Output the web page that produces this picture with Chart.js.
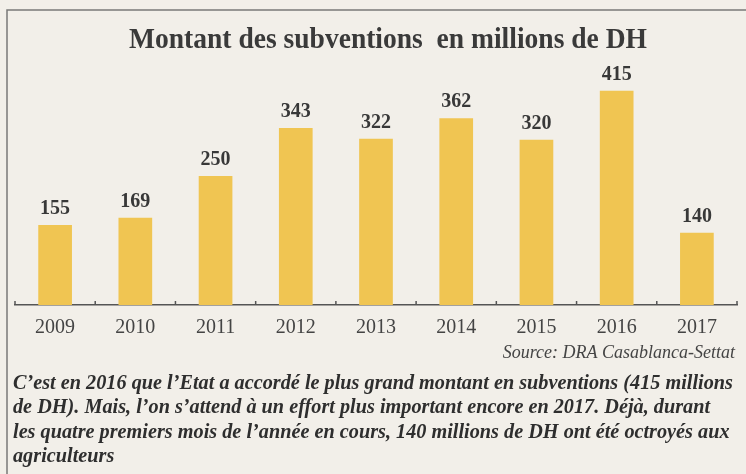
<!DOCTYPE html>
<html>
<head>
<meta charset="utf-8">
<script src="https://cdn.jsdelivr.net/npm/chart.js@4"></script>
<style>
  html, body { margin: 0; padding: 0; background: #f2efe9; }
  #wrap { width: 746px; height: 474px; }
</style>
</head>
<body>
<div id="wrap"><canvas id="subv" width="746" height="474"></canvas></div>
<script>
const annees = ['2009', '2010', '2011', '2012', '2013', '2014', '2015', '2016', '2017']
const montants = [155, 169, 250, 343, 322, 362, 320, 415, 140]
const titre = 'Montant des subventions  en millions de DH'
const source = 'Source: DRA Casablanca-Settat'
const commentaire = [
  'C\u2019est en 2016 que l\u2019Etat a accordé le plus grand montant en subventions (415 millions',
  'de DH). Mais, l\u2019on s\u2019attend à un effort plus important encore en 2017. Déjà, durant',
  'les quatre premiers mois de l\u2019année en cours, 140 millions de DH ont été octroyés aux',
  'agriculteurs'
]

const serif = '"Liberation Serif", "DejaVu Serif", serif'

// texte condensé : on compresse horizontalement pour coller a la largeur voulue
function texteSerre(ctx, txt, x, y, font, largeur, align) {
  ctx.save()
  ctx.font = font
  const w = ctx.measureText(txt).width
  const k = largeur ? Math.min(1, largeur / w) : 1
  ctx.translate(x, y)
  ctx.scale(k, 1)
  ctx.textAlign = align || 'left'
  ctx.fillText(txt, 0, 0)
  ctx.restore()
  return k
}

const habillage = {
  id: 'habillage',
  beforeDraw(chart) {
    const ctx = chart.ctx
    ctx.save()
    ctx.fillStyle = '#f2efe9'
    ctx.fillRect(0, 0, chart.width, chart.height)
    ctx.strokeStyle = '#7a7a78'
    ctx.lineWidth = 1.5
    ctx.beginPath()
    ctx.moveTo(7, 474)
    ctx.lineTo(7, 10)
    ctx.lineTo(746, 10)
    ctx.stroke()
    ctx.restore()
  },
  afterDraw(chart) {
    const ctx = chart.ctx
    const x = chart.scales.x
    const meta = chart.getDatasetMeta(0)
    ctx.save()
    ctx.fillStyle = '#3a3a3a'
    // titre
    texteSerre(ctx, titre, 388, 48, 'bold 29px ' + serif, 518, 'center')
    // valeurs au-dessus des barres
    ctx.fillStyle = '#383838'
    meta.data.forEach((bar, i) => {
      texteSerre(ctx, String(montants[i]), bar.x, bar.y - 11, 'bold 20px ' + serif, 0, 'center')
    })
    // petits traits de graduation vers le haut
    ctx.strokeStyle = '#555'
    ctx.lineWidth = 1.5
    const pas = (x.right - x.left) / annees.length
    for (let i = 0; i <= annees.length; i++) {
      const px = x.left + i * pas
      ctx.beginPath()
      ctx.moveTo(px, x.top)
      ctx.lineTo(px, x.top - 4)
      ctx.stroke()
    }
    // source
    ctx.fillStyle = '#444'
    texteSerre(ctx, source, 735, 358, 'italic 18px ' + serif, 0, 'right')
    // commentaire
    ctx.fillStyle = '#2e2e2e'
    const f = 'bold italic 21px ' + serif
    ctx.font = f
    const k = 720 / ctx.measureText(commentaire[0]).width
    commentaire.forEach((ligne, i) => {
      ctx.save()
      ctx.translate(13, 389 + i * 24.4)
      ctx.scale(k, 1)
      ctx.font = f
      ctx.fillText(ligne, 0, 0)
      ctx.restore()
    })
    ctx.restore()
  }
}

new Chart(document.querySelector('#subv'), {
  type: 'bar',
  data: {
    labels: annees,
    datasets: [{
      data: montants,
      backgroundColor: '#f0c552',
      borderWidth: 0,
      barPercentage: 0.42,
      categoryPercentage: 1
    }]
  },
  options: {
    responsive: false,
    animation: false,
    events: [],
    layout: { padding: { top: 80, left: 15, right: 9, bottom: 123 } },
    plugins: { legend: { display: false }, tooltip: { enabled: false } },
    scales: {
      x: {
        offset: true,
        grid: { display: false, drawTicks: false },
        border: { display: true, color: '#555', width: 1.5 },
        ticks: { color: '#444', padding: 11, font: { family: serif, size: 20 } }
      },
      y: {
        display: false,
        min: 0,
        max: 436
      }
    }
  },
  plugins: [habillage]
})
</script>
</body>
</html>
